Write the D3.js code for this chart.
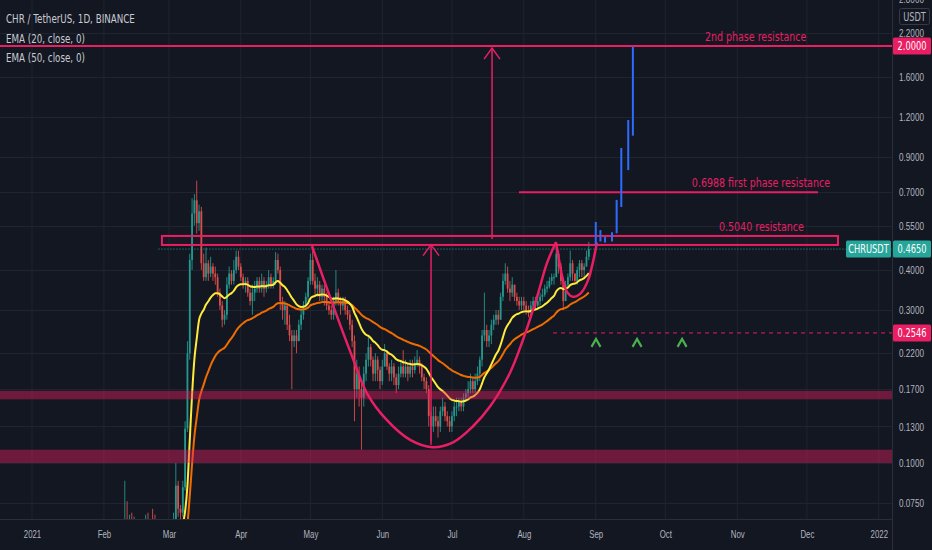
<!DOCTYPE html>
<html>
<head>
<meta charset="utf-8">
<script src="https://cdn.jsdelivr.net/npm/d3@7"></script>
<style>
  html, body { margin: 0; padding: 0; background: #131722; }
  svg { display: block; font-family: "DejaVu Sans", sans-serif; }
</style>
</head>
<body>
<div id="chart"></div>
<script>
// ---- data (CHR / USDT daily) ----
const startDate = "2021-01-01";
const firstOpen = 0.032;

const closes = [
  // Jan
  0.033,0.032,0.034,0.036,0.035,0.037,0.039,0.038,0.040,0.037,
  0.035,0.033,0.034,0.036,0.038,0.037,0.036,0.038,0.039,0.041,
  0.039,0.035,0.036,0.037,0.038,0.040,0.039,0.038,0.041,0.043,0.042,
  // Feb
  0.044,0.045,0.047,0.046,0.048,0.050,0.049,0.051,0.054,0.058,
  0.057,0.060,0.059,0.057,0.058,0.056,0.060,0.059,0.062,0.058,
  0.060,0.058,0.056,0.059,0.058,0.057,0.060,0.061,
  // Mar
  0.060,0.062,0.066,0.085,0.072,0.070,0.084,0.128,0.22,0.43,
  0.60,0.66,0.56,0.61,0.42,0.38,0.42,0.39,0.41,0.39,
  0.38,0.34,0.31,0.28,0.29,0.36,0.39,0.37,0.40,0.44,0.41,
  // Apr
  0.38,0.36,0.37,0.34,0.32,0.34,0.35,0.37,0.35,0.37,
  0.35,0.36,0.38,0.36,0.37,0.43,0.40,0.32,0.30,0.31,
  0.27,0.25,0.24,0.25,0.24,0.27,0.29,0.31,0.33,0.37,
  // May
  0.43,0.37,0.35,0.36,0.33,0.35,0.33,0.31,0.30,0.29,
  0.32,0.34,0.32,0.31,0.32,0.30,0.29,0.27,0.24,0.17,
  0.19,0.17,0.16,0.19,0.21,0.23,0.21,0.19,0.21,0.195,0.18,
  // Jun
  0.20,0.22,0.20,0.19,0.20,0.185,0.175,0.19,0.20,0.19,
  0.20,0.19,0.20,0.195,0.205,0.21,0.20,0.185,0.18,0.17,
  0.14,0.13,0.14,0.135,0.13,0.145,0.15,0.14,0.135,0.13,
  // Jul
  0.14,0.15,0.15,0.155,0.15,0.16,0.165,0.17,0.18,0.17,
  0.18,0.19,0.21,0.25,0.26,0.24,0.25,0.27,0.28,0.29,
  0.28,0.33,0.37,0.39,0.35,0.34,0.36,0.33,0.32,0.31,0.32,
  // Aug
  0.31,0.30,0.295,0.31,0.32,0.31,0.32,0.33,0.335,0.35,
  0.355,0.37,0.38,0.38,0.45,0.41,0.37,0.32,0.36,0.38,
  0.42,0.39,0.37,0.40,0.42,0.40,0.41,0.44,0.465
];

const highs = [
  0.035,0.034,0.035,0.037,0.037,0.038,0.041,0.040,0.042,0.041,
  0.038,0.036,0.035,0.037,0.039,0.039,0.038,0.039,0.040,0.043,
  0.042,0.040,0.037,0.038,0.039,0.041,0.041,0.040,0.042,0.045,0.044,
  0.046,0.047,0.049,0.048,0.050,0.052,0.051,0.053,0.056,0.088,
  0.076,0.069,0.070,0.068,0.061,0.059,0.062,0.061,0.069,0.070,
  0.062,0.072,0.069,0.060,0.061,0.060,0.062,0.064,
  0.063,0.064,0.070,0.100,0.088,0.074,0.088,0.135,0.24,0.45,
  0.67,0.69,0.76,0.64,0.63,0.45,0.47,0.43,0.44,0.42,
  0.41,0.39,0.35,0.32,0.30,0.38,0.41,0.40,0.43,0.46,0.46,
  0.42,0.39,0.38,0.38,0.35,0.36,0.37,0.38,0.38,0.39,
  0.38,0.37,0.40,0.39,0.38,0.455,0.45,0.41,0.33,0.32,
  0.31,0.29,0.26,0.26,0.26,0.28,0.30,0.32,0.34,0.38,
  0.45,0.475,0.39,0.38,0.37,0.36,0.36,0.34,0.32,0.31,
  0.33,0.40,0.35,0.33,0.33,0.33,0.31,0.30,0.28,0.25,
  0.21,0.20,0.18,0.20,0.22,0.25,0.235,0.215,0.22,0.215,0.20,
  0.21,0.235,0.225,0.205,0.21,0.205,0.19,0.20,0.21,0.225,
  0.21,0.205,0.21,0.21,0.215,0.225,0.215,0.205,0.19,0.185,
  0.175,0.145,0.15,0.15,0.14,0.15,0.16,0.155,0.145,0.14,
  0.145,0.155,0.16,0.16,0.16,0.165,0.17,0.18,0.19,0.185,
  0.19,0.20,0.215,0.26,0.34,0.27,0.26,0.28,0.29,0.30,
  0.30,0.34,0.39,0.42,0.41,0.37,0.38,0.36,0.34,0.33,0.33,
  0.33,0.32,0.31,0.32,0.33,0.33,0.34,0.34,0.35,0.36,
  0.37,0.38,0.39,0.39,0.49,0.46,0.42,0.38,0.37,0.39,
  0.46,0.43,0.39,0.41,0.43,0.43,0.42,0.46,0.49
];

const lows = [
  0.031,0.031,0.031,0.033,0.034,0.034,0.036,0.037,0.037,0.036,
  0.034,0.032,0.032,0.033,0.035,0.036,0.035,0.035,0.037,0.038,
  0.038,0.034,0.034,0.035,0.036,0.037,0.038,0.037,0.037,0.040,0.041,
  0.042,0.043,0.044,0.045,0.045,0.047,0.048,0.048,0.050,0.053,
  0.055,0.056,0.057,0.055,0.056,0.054,0.055,0.057,0.058,0.056,
  0.057,0.056,0.054,0.055,0.056,0.055,0.056,0.058,
  0.058,0.059,0.061,0.064,0.068,0.066,0.068,0.082,0.125,0.21,
  0.40,0.55,0.52,0.53,0.40,0.37,0.37,0.37,0.38,0.37,
  0.36,0.33,0.30,0.265,0.27,0.28,0.35,0.36,0.36,0.39,0.40,
  0.37,0.35,0.34,0.33,0.31,0.29,0.32,0.34,0.34,0.34,
  0.33,0.34,0.35,0.35,0.35,0.36,0.39,0.30,0.28,0.27,
  0.26,0.24,0.17,0.23,0.22,0.24,0.26,0.28,0.30,0.32,
  0.36,0.36,0.33,0.33,0.32,0.32,0.31,0.30,0.29,0.28,
  0.28,0.31,0.31,0.29,0.30,0.29,0.28,0.26,0.23,0.135,
  0.16,0.15,0.11,0.15,0.18,0.20,0.20,0.18,0.18,0.18,0.17,
  0.175,0.20,0.195,0.18,0.18,0.175,0.165,0.17,0.185,0.185,
  0.185,0.18,0.185,0.185,0.19,0.20,0.19,0.18,0.17,0.165,
  0.13,0.117,0.125,0.13,0.12,0.125,0.14,0.135,0.13,0.125,
  0.125,0.135,0.14,0.145,0.145,0.145,0.155,0.16,0.165,0.165,
  0.165,0.175,0.18,0.20,0.24,0.23,0.23,0.235,0.26,0.27,
  0.27,0.28,0.32,0.36,0.34,0.32,0.33,0.32,0.31,0.30,0.30,
  0.30,0.29,0.285,0.29,0.30,0.30,0.30,0.31,0.32,0.33,
  0.34,0.35,0.36,0.36,0.39,0.39,0.36,0.30,0.33,0.35,
  0.37,0.37,0.36,0.36,0.38,0.38,0.38,0.41,0.43
];

// projected bars (blue bars pattern)
const projDates = ["2021-09-01","2021-09-03","2021-09-05","2021-09-08","2021-09-10","2021-09-12","2021-09-15","2021-09-17"];
const projLows  = [0.479,0.491,0.487,0.491,0.521,0.629,0.82,1.05];
const projHighs = [0.565,0.533,0.508,0.525,0.662,0.961,1.175,1.99];

// cup drawing (days since start, price)
const cupDays   = [120.7,130.5,138,144.4,153,163,172.5,181.5,190,197.4,206,211.6,217.7,222,225.9];
const cupPrices = [0.475,0.30,0.215,0.165,0.136,0.118,0.112,0.116,0.130,0.150,0.191,0.242,0.330,0.421,0.489];
// handle drawing
const handleDays   = [225.9,228.9,230.6,233.2,236.6,239.7,241.8,243.5];
const handlePrices = [0.487,0.372,0.342,0.330,0.339,0.372,0.424,0.487];

// levels
const phase2Level = 2.0;
const phase1Level = 0.6988;
const phase1Days = [209.9, 338.8];
const resistBox = { days: [56, 347.4], prices: [0.479, 0.511] };
const supportBands = [[0.158, 0.168], [0.100, 0.110]];
const dashLevel = 0.2546;
const dashStartDay = 224.6;
const lastPrice = 0.4650;
const lastLineStartDay = 54.5;

// arrows (day, from price, to price)
const arrowDays = [198.3, 172];
const arrowFrom = [0.50, 0.114];
const arrowTo   = [1.97, 0.48];

// green marks
const markDays = [243.1, 260.8, 280.2];
const markPrice = 0.237;

// labels
const levelTexts = ["2nd phase resistance", "0.6988 first phase resistance", "0.5040 resistance"];
const levelTextDays = [311.9, 314.2, 314.4];
const levelTextPrices = [2.0, 0.6988, 0.511];

const legendRows = ["CHR / TetherUS, 1D, BINANCE", "EMA (20, close, 0)", "EMA (50, close, 0)"];

const monthDates = ["2021-01-01","2021-02-01","2021-03-01","2021-04-01","2021-05-01","2021-06-01",
  "2021-07-01","2021-08-01","2021-09-01","2021-10-01","2021-11-01","2021-12-01","2022-01-01"];
const monthLabels = ["2021","Feb","Mar","Apr","May","Jun","Jul","Aug","Sep","Oct","Nov","Dec","2022"];
const priceTicks = [2.8, 2.2, 1.6, 1.2, 0.9, 0.7, 0.55, 0.4, 0.3, 0.22, 0.17, 0.13, 0.1, 0.075];

// ---- layout ----
const width = 932, height = 550;
const plotW = 892, plotH = 519;
const pink = "#e91e63", teal = "#26a69a", up = "#26a69a", down = "#ef5350";

const parse = d3.utcParse("%Y-%m-%d");
const t0 = parse(startDate);
const dayToDate = d => new Date(t0.getTime() + d * 864e5);

const x = d3.scaleUtc()
  .domain([parse("2021-01-01"), parse("2022-01-01")])
  .range([32, 878.8]);
const y = d3.scaleLog()
  .domain([0.1, 2])
  .range([463, 46]);

// narrow the (only available) wide font to look like the condensed chart font
function squeeze(sel, sx) {
  sel.each(function () {
    const t = d3.select(this);
    const tx = +t.attr("x") || 0, ty = +t.attr("y") || 0;
    t.attr("x", 0).attr("y", 0).attr("transform", `translate(${tx},${ty}) scale(${sx},1)`);
  });
}

// build candles
let prev = firstOpen;
const candles = closes.map((c, i) => {
  const o = prev; prev = c;
  return { date: dayToDate(i), o: o, c: c, h: Math.max(highs[i], o, c), l: Math.min(lows[i], o, c) };
});

function ema(values, n) {
  const k = 2 / (n + 1);
  let e = values[0];
  return values.map(v => (e = v * k + e * (1 - k)));
}
const ema20 = ema(closes, 20);
const ema50 = ema(closes, 50);

const svg = d3.select("#chart").append("svg")
  .attr("width", width).attr("height", height)
  .attr("viewBox", [0, 0, width, height]);

svg.append("rect").attr("width", width).attr("height", height).attr("fill", "#131722");

svg.append("clipPath").attr("id", "plot")
  .append("rect").attr("width", plotW).attr("height", plotH);

const plot = svg.append("g").attr("clip-path", "url(#plot)");

// grid
plot.append("g").selectAll("line.vg")
  .data(monthDates.map(parse))
  .join("line")
  .attr("x1", d => x(d)).attr("x2", d => x(d))
  .attr("y1", 0).attr("y2", plotH)
  .attr("stroke", "#20242f").attr("stroke-width", 1);

plot.append("g").selectAll("line.hg")
  .data(priceTicks.concat([2.0]))
  .join("line")
  .attr("x1", 0).attr("x2", plotW)
  .attr("y1", d => Math.round(y(d)) + 0.5).attr("y2", d => Math.round(y(d)) + 0.5)
  .attr("stroke", "#20242f").attr("stroke-width", 1);

// candles
const bw = 1.8;
const cg = plot.append("g").attr("opacity", 0.9);
cg.selectAll("line.wick")
  .data(candles)
  .join("line")
  .attr("x1", d => x(d.date)).attr("x2", d => x(d.date))
  .attr("y1", d => y(d.h)).attr("y2", d => y(d.l))
  .attr("stroke", d => d.c >= d.o ? up : down)
  .attr("stroke-width", 0.9);
cg.selectAll("rect.body")
  .data(candles)
  .join("rect")
  .attr("x", d => x(d.date) - bw / 2)
  .attr("width", bw)
  .attr("y", d => y(Math.max(d.o, d.c)))
  .attr("height", d => Math.max(1, y(Math.min(d.o, d.c)) - y(Math.max(d.o, d.c))))
  .attr("fill", d => d.c >= d.o ? up : down);

// EMAs
const emaLine = arr => d3.line()
  .x((d, i) => x(dayToDate(i)))
  .y(d => y(d))
  .curve(d3.curveMonotoneX)(arr);
plot.append("path").attr("d", emaLine(ema50))
  .attr("fill", "none").attr("stroke", "#ef6c00").attr("stroke-width", 2);
plot.append("path").attr("d", emaLine(ema20))
  .attr("fill", "none").attr("stroke", "#ffeb3b").attr("stroke-width", 2);

// support bands
plot.append("g").selectAll("rect")
  .data(supportBands)
  .join("rect")
  .attr("x", 0).attr("width", plotW)
  .attr("y", d => y(d[1]))
  .attr("height", d => y(d[0]) - y(d[1]))
  .attr("fill", pink).attr("fill-opacity", 0.42);

// last price dotted line
plot.append("line")
  .attr("x1", x(dayToDate(lastLineStartDay))).attr("x2", plotW)
  .attr("y1", y(lastPrice)).attr("y2", y(lastPrice))
  .attr("stroke", teal).attr("stroke-width", 1).attr("stroke-dasharray", "1,2");

// resistance box
plot.append("rect")
  .attr("x", x(dayToDate(resistBox.days[0])))
  .attr("width", x(dayToDate(resistBox.days[1])) - x(dayToDate(resistBox.days[0])))
  .attr("y", y(resistBox.prices[1]))
  .attr("height", y(resistBox.prices[0]) - y(resistBox.prices[1]))
  .attr("fill", pink).attr("fill-opacity", 0.04)
  .attr("stroke", pink).attr("stroke-width", 2);

// phase lines
plot.append("line")
  .attr("x1", 0).attr("x2", plotW)
  .attr("y1", y(phase2Level)).attr("y2", y(phase2Level))
  .attr("stroke", pink).attr("stroke-width", 2);
plot.append("line")
  .attr("x1", x(dayToDate(phase1Days[0]))).attr("x2", x(dayToDate(phase1Days[1])))
  .attr("y1", y(phase1Level)).attr("y2", y(phase1Level))
  .attr("stroke", pink).attr("stroke-width", 2);

// dashed level
plot.append("line")
  .attr("x1", x(dayToDate(dashStartDay))).attr("x2", plotW)
  .attr("y1", y(dashLevel)).attr("y2", y(dashLevel))
  .attr("stroke", pink).attr("stroke-width", 1).attr("stroke-dasharray", "4,4");

// cup and handle
const curve = d3.line().x(d => x(dayToDate(d[0]))).y(d => y(d[1])).curve(d3.curveCatmullRom.alpha(0.5));
plot.append("path").attr("d", curve(d3.zip(cupDays, cupPrices)))
  .attr("fill", "none").attr("stroke", pink).attr("stroke-width", 2.5);
plot.append("path").attr("d", curve(d3.zip(handleDays, handlePrices)))
  .attr("fill", "none").attr("stroke", pink).attr("stroke-width", 2.5);

// arrows
arrowDays.forEach((d, i) => {
  const ax = x(dayToDate(d)), y0 = y(arrowFrom[i]), y1 = y(arrowTo[i]);
  plot.append("line").attr("x1", ax).attr("x2", ax).attr("y1", y0).attr("y2", y1)
    .attr("stroke", pink).attr("stroke-width", 1.5);
  plot.append("path").attr("d", `M${ax - 8},${y1 + 11}L${ax},${y1}L${ax + 8},${y1 + 11}`)
    .attr("fill", "none").attr("stroke", pink).attr("stroke-width", 1.5);
});

// projected blue bars
plot.append("g").selectAll("line")
  .data(projDates.map((d, i) => ({ date: parse(d), lo: projLows[i], hi: projHighs[i] })))
  .join("line")
  .attr("x1", d => x(d.date)).attr("x2", d => x(d.date))
  .attr("y1", d => y(d.hi)).attr("y2", d => y(d.lo))
  .attr("stroke", "#2f6bff").attr("stroke-width", 2);

// green marks
plot.append("g").selectAll("path")
  .data(markDays)
  .join("path")
  .attr("d", d => { const mx = x(dayToDate(d)), my = y(markPrice); return `M${mx - 4.5},${my + 4}L${mx},${my - 4}L${mx + 4.5},${my + 4}`; })
  .attr("fill", "none").attr("stroke", "#4caf50").attr("stroke-width", 2.2);

// level texts
plot.append("g").selectAll("text")
  .data(levelTexts)
  .join("text")
  .attr("x", (d, i) => x(dayToDate(levelTextDays[i])))
  .attr("y", (d, i) => y(levelTextPrices[i]) - 5)
  .attr("text-anchor", "middle")
  .attr("fill", pink)
  .attr("font-size", 12.5)
  .text(d => d)
  .call(squeeze, 0.76);

// legend
svg.append("g").selectAll("text")
  .data(legendRows)
  .join("text")
  .attr("x", 6)
  .attr("y", (d, i) => 23 + i * 19.5)
  .attr("fill", "#c8cbd3")
  .attr("font-size", 12.5)
  .text(d => d)
  .call(squeeze, 0.7);

// axis borders
svg.append("line").attr("x1", plotW + 0.5).attr("x2", plotW + 0.5).attr("y1", 0).attr("y2", height)
  .attr("stroke", "#2a2e39");
svg.append("line").attr("x1", 0).attr("x2", plotW).attr("y1", plotH + 0.5).attr("y2", plotH + 0.5)
  .attr("stroke", "#2a2e39");

// price axis
const yAxis = svg.append("g")
  .attr("transform", `translate(${plotW + 4},0)`)
  .call(d3.axisRight(y).tickValues(priceTicks).tickFormat(d3.format(".4f")).tickSize(0));
yAxis.select(".domain").remove();
yAxis.selectAll("text").attr("fill", "#b2b5be").attr("font-size", 11.5).attr("font-family", "inherit")
  .call(squeeze, 0.71);

// time axis
const xAxis = svg.append("g")
  .attr("transform", `translate(0,${plotH})`)
  .call(d3.axisBottom(x).tickValues(monthDates.map(parse)).tickFormat((d, i) => monthLabels[i]).tickSize(0));
xAxis.select(".domain").remove();
xAxis.selectAll("text").attr("fill", "#b2b5be").attr("font-size", 11.5).attr("dy", "1.35em").attr("font-family", "inherit")
  .call(squeeze, 0.68);

// USDT box
svg.append("rect").attr("x", plotW + 7.5).attr("y", 8.5).attr("width", 30).attr("height", 16).attr("rx", 2)
  .attr("fill", "#131722").attr("stroke", "#363a45");
svg.append("text").attr("x", plotW + 22.5).attr("y", 20.5).attr("text-anchor", "middle")
  .attr("fill", "#b2b5be").attr("font-size", 11.5).text("USDT")
  .call(squeeze, 0.72);

// price badges
function badge(x0, w, price, color, label) {
  const cy = y(price);
  svg.append("rect").attr("x", x0).attr("y", cy - 8.5).attr("width", w).attr("height", 17).attr("rx", 1.5)
    .attr("fill", color);
  svg.append("text").attr("x", x0 + w / 2).attr("y", cy + 4.2).attr("text-anchor", "middle")
    .attr("fill", "#ffffff").attr("font-size", 11.5).text(label)
    .call(squeeze, 0.72);
}
badge(plotW + 1, 38, phase2Level, pink, d3.format(".4f")(phase2Level));
badge(plotW + 1, 38, lastPrice, teal, d3.format(".4f")(lastPrice));
badge(846, 45, lastPrice, teal, "CHRUSDT");
badge(plotW + 1, 38, dashLevel, pink, d3.format(".4f")(dashLevel));
</script>
</body>
</html>
